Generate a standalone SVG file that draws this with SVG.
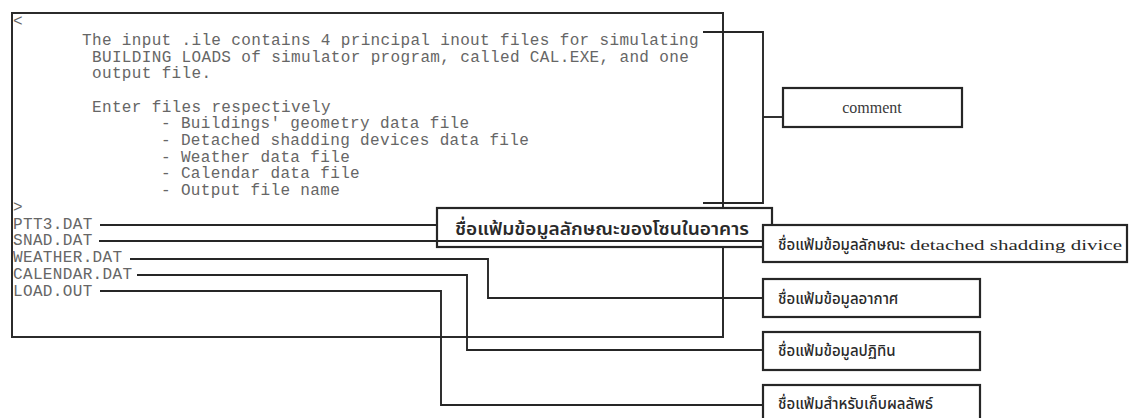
<svg xmlns="http://www.w3.org/2000/svg" width="1132" height="418" viewBox="0 0 1132 418">
  <style>
    .frame { fill: #ffffff; stroke: #2b2b2b; stroke-width: 2; }
    .label { fill: #ffffff; stroke: #262626; stroke-width: 2.2; }
    .wire { fill: none; stroke: #262626; stroke-width: 1.9; }
    .mono { font-family: "Liberation Mono", "DejaVu Sans Mono", monospace; font-size: 16px; letter-spacing: 0.35px; fill: #666666; }
    .thai { font-family: "Noto Sans Thai", "Noto Serif Thai", "Noto Sans", "DejaVu Sans", sans-serif; font-size: 15px; font-weight: 500; fill: #2a2a2a; }
    .thai-big { font-size: 18px; font-weight: 600; }
    .latin { font-family: "Liberation Serif", serif; font-size: 15px; fill: #2a2a2a; }
    .note { font-size: 16px; fill: #3a3a3a; }
  </style>

  <!-- console screen with the prompt text and file names -->
  <g id="console">
    <rect class="frame" x="12" y="13" width="711" height="324"/>
    <text class="mono" x="13" y="26">&lt;</text>
    <text class="mono" x="82" y="45">The input .ile contains 4 principal inout files for simulating</text>
    <text class="mono" x="92" y="62">BUILDING LOADS of simulator program, called CAL.EXE, and one</text>
    <text class="mono" x="92" y="78">output file.</text>
    <text class="mono" x="92" y="112">Enter files respectively</text>
    <text class="mono" x="161" y="128">- Buildings' geometry data file</text>
    <text class="mono" x="161" y="145">- Detached shadding devices data file</text>
    <text class="mono" x="161" y="162">- Weather data file</text>
    <text class="mono" x="161" y="178">- Calendar data file</text>
    <text class="mono" x="161" y="195">- Output file name</text>
    <text class="mono" x="13" y="212">&gt;</text>
    <text class="mono" x="13" y="229">PTT3.DAT</text>
    <text class="mono" x="13" y="245">SNAD.DAT</text>
    <text class="mono" x="13" y="262">WEATHER.DAT</text>
    <text class="mono" x="13" y="279">CALENDAR.DAT</text>
    <text class="mono" x="13" y="296">LOAD.OUT</text>
  </g>

  <!-- zone data file label -->
  <g id="zone-file">
    <rect class="label" x="437" y="208" width="335" height="39"/>
    <text class="thai thai-big" x="455" y="235" textLength="294" lengthAdjust="spacingAndGlyphs">ชื่อแฟ้มข้อมูลลักษณะของโซนในอาคาร</text>
  </g>

  <!-- leader lines -->
  <g id="connectors">
    <!-- bracket round the prompt text -->
    <path class="wire" d="M703 32 H763 V203 H703"/>
    <path class="wire" d="M763 117 H783"/>
    <!-- file name leaders -->
    <path class="wire" d="M100 225 H437"/>
    <path class="wire" d="M99 241 H763"/>
    <path class="wire" d="M130 259 H488 V298 H763"/>
    <path class="wire" d="M137 275 H467 V350 H763"/>
    <path class="wire" d="M100 291 H441 V405 H763"/>
  </g>

  <g id="comment">
    <rect class="label" x="783" y="88" width="179" height="39"/>
    <text class="latin note" x="872" y="113" text-anchor="middle">comment</text>
  </g>

  <g id="shading-file">
    <rect class="label" x="763" y="225" width="364" height="37"/>
    <text class="thai" x="778" y="250">ชื่อแฟ้มข้อมูลลักษณะ</text>
    <text class="latin" x="910" y="250" textLength="212" lengthAdjust="spacingAndGlyphs">detached shadding divice</text>
  </g>

  <g id="weather-file">
    <rect class="label" x="763" y="279" width="217" height="38"/>
    <text class="thai" x="778" y="304">ชื่อแฟ้มข้อมูลอากาศ</text>
  </g>

  <g id="calendar-file">
    <rect class="label" x="763" y="332" width="217" height="38"/>
    <text class="thai" x="778" y="356">ชื่อแฟ้มข้อมูลปฏิทิน</text>
  </g>

  <g id="output-file">
    <rect class="label" x="763" y="385" width="217" height="40"/>
    <text class="thai" x="778" y="409">ชื่อแฟ้มสำหรับเก็บผลลัพธ์</text>
  </g>
</svg>
